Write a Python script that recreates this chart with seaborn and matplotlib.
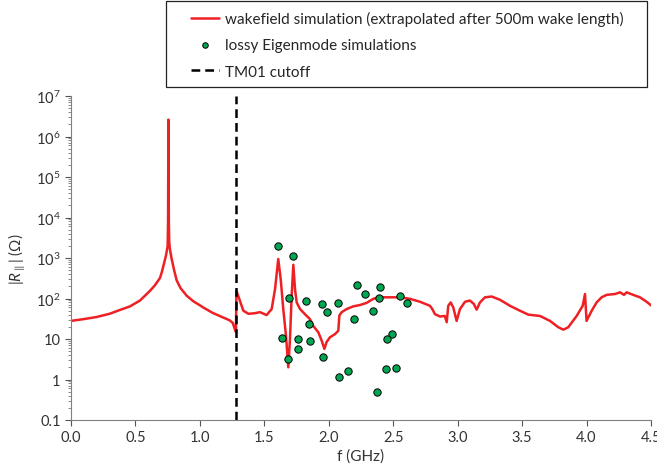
import numpy as np
import pandas as pd
import seaborn as sns
import matplotlib.pyplot as plt
import matplotlib.ticker as ticker
from matplotlib.patches import Rectangle

# wakefield simulation curve (f in GHz, |R| in Ohm)
wake_f = [0.0, 0.1, 0.2, 0.3, 0.4, 0.458, 0.535, 0.613, 0.65, 0.69, 0.704, 0.72,
          0.737, 0.75, 0.753, 0.756, 0.759, 0.762, 0.768, 0.781, 0.8, 0.82, 0.85,
          0.898, 0.95, 1.0, 1.026, 1.1, 1.18, 1.23, 1.255, 1.275, 1.28, 1.283,
          1.30, 1.337, 1.376, 1.42, 1.466, 1.518, 1.557, 1.583, 1.608, 1.627,
          1.647, 1.668, 1.686, 1.699, 1.712, 1.725, 1.738, 1.751, 1.777, 1.815,
          1.854, 1.880, 1.919, 1.945, 1.966, 1.983, 2.009, 2.048, 2.074, 2.082,
          2.1, 2.139, 2.19, 2.242, 2.294, 2.345, 2.384, 2.449, 2.552, 2.63, 2.708,
          2.785, 2.803, 2.824, 2.863, 2.90, 2.915, 2.927, 2.946, 2.966, 2.992,
          3.018, 3.057, 3.095, 3.126, 3.147, 3.173, 3.212, 3.264, 3.328, 3.406,
          3.483, 3.548, 3.639, 3.716, 3.781, 3.82, 3.858, 3.923, 3.97, 3.988, 4.0,
          4.04, 4.078, 4.117, 4.156, 4.22, 4.26, 4.29, 4.311, 4.362, 4.414, 4.466,
          4.505]
wake_r = [28, 31, 35, 42, 55, 64, 89, 155, 210, 320, 440, 700,
          1150, 2000, 8000, 2.6e6, 8000, 2500, 1600, 950, 500, 280, 180,
          117, 85, 68, 60, 44, 34, 29, 25, 16, 15, 155,
          110, 50, 42, 43, 46, 39, 55, 170, 945, 302,
          55, 12, 2.0, 10, 117, 680, 170, 80, 55, 41,
          31, 21, 14.6, 9.1, 5.7, 8.4, 11, 13.2, 16, 38,
          46, 55, 64, 69, 78, 98, 107, 107, 107, 98, 83,
          66, 55, 41, 36, 37, 26, 66, 80, 60, 28,
          55, 83, 89, 73, 53, 80, 107, 112, 93, 66,
          50, 40, 37, 28, 19.5, 17, 19.5, 37, 66, 129, 28,
          50, 80, 107, 123, 129, 142, 123, 142, 123, 107, 83,
          66]

# lossy Eigenmode simulations
eig_f = [1.608, 1.725, 1.691, 1.823, 1.945, 1.983, 2.071, 2.216, 2.283, 2.40,
         2.387, 2.345, 2.193, 2.55, 2.607, 1.846, 1.635, 1.759, 1.852, 1.763,
         1.681, 1.957, 2.49, 2.452, 2.079, 2.147, 2.444, 2.524, 2.372]
eig_r = [2000, 1100, 103, 85, 73, 46, 79, 210, 129, 190,
         103, 48, 32, 113, 78, 24, 10.5, 9.8, 8.9, 5.6,
         3.3, 3.5, 13, 9.8, 1.17, 1.65, 1.8, 1.95, 0.49]

tm01_cutoff = 1.28

x_ticks = [0.0, 0.5, 1.0, 1.5, 2.0, 2.5, 3.0, 3.5, 4.0, 4.5]
y_ticks = [0.1, 1, 10, 1e2, 1e3, 1e4, 1e5, 1e6, 1e7]
y_labels = ['0.1', '1', '10', '$10^2$', '$10^3$', '$10^4$', '$10^5$', '$10^6$', '$10^7$']

sns.set_style("ticks")
plt.rcParams['font.family'] = ['Lato', 'DejaVu Sans']
plt.rcParams['mathtext.fontset'] = 'custom'
plt.rcParams['mathtext.rm'] = 'Lato'
plt.rcParams['mathtext.it'] = 'Lato:italic'

wake = pd.DataFrame({'f': wake_f, 'R': wake_r})
eig = pd.DataFrame({'f': eig_f, 'R': eig_r})

W, H = 657, 477
fig = plt.figure(figsize=(W / 100, H / 100), dpi=100)
ax = fig.add_axes([71 / W, 1 - 421 / H, 580 / W, 324 / H])

sns.lineplot(x='f', y='R', data=wake, ax=ax, color='#ee2024', linewidth=1.8,
             estimator=None, sort=False,
             label='wakefield simulation (extrapolated after 500m wake length)')
sns.scatterplot(x='f', y='R', data=eig, ax=ax, color='#00a651', edgecolor='black',
                linewidth=0.7, s=28, zorder=3, label='lossy Eigenmode simulations')
ax.axvline(tm01_cutoff, color='black', linestyle=(0, (3.5, 2)), linewidth=1.8,
           label='TM01 cutoff')

ax.set_yscale('log')
ax.set_xlim(0, 4.5)
ax.set_ylim(0.1, 1e7)
ax.xaxis.set_major_locator(ticker.FixedLocator(x_ticks))
ax.xaxis.set_major_formatter(ticker.FormatStrFormatter('%.1f'))
ax.yaxis.set_major_locator(ticker.FixedLocator(y_ticks))
ax.yaxis.set_major_formatter(ticker.FixedFormatter(y_labels))
ax.yaxis.set_minor_locator(ticker.LogLocator(base=10, subs=np.arange(2, 10), numticks=20))
ax.yaxis.set_minor_formatter(ticker.NullFormatter())

ax.tick_params(axis='both', which='major', labelsize=10.5, colors='#555555',
               labelcolor='#333333', length=4)
ax.tick_params(axis='y', which='minor', length=2, colors='#777777')
for side in ['top', 'right']:
    ax.spines[side].set_visible(False)
for side in ['left', 'bottom']:
    ax.spines[side].set_color('#808080')

ax.set_xlabel('f (GHz)', fontsize=11, color='#333333', labelpad=3)
ax.set_ylabel(r'$|R_{\parallel}|\ (\Omega)$', fontsize=11, color='#333333', labelpad=6)

# legend sits above the axes, with a frame drawn separately
handles, labels = ax.get_legend_handles_labels()
ax.get_legend().remove()
fig.legend(handles, labels, loc='upper left', bbox_to_anchor=(191 / W, 1 - 12 / H),
           fontsize=11, frameon=False, handlelength=1.85, handletextpad=0.4,
           borderpad=0, borderaxespad=0, labelspacing=0.8, markerscale=0.75)
fig.patches.append(Rectangle((166 / W, 1 - 88 / H), 481 / W, 86 / H,
                             transform=fig.transFigure, fill=False,
                             edgecolor='#222222', linewidth=0.9))

plt.savefig('out.png', dpi=100)
